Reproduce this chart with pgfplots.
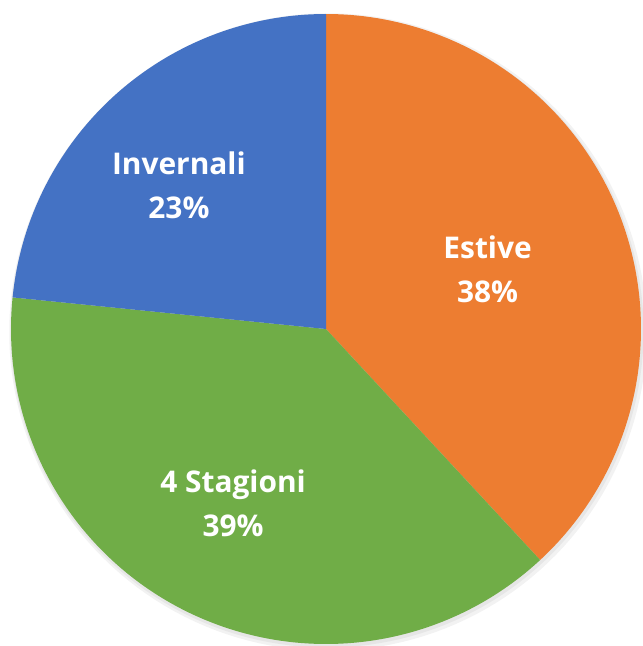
\documentclass[border=0pt]{standalone}
\usepackage{fontspec}
\setmainfont{Open Sans}
\usepackage{pgfplots}
\pgfplotsset{compat=1.18}
\definecolor{cOrange}{HTML}{ED7D31}
\definecolor{cGreen}{HTML}{70AD47}
\definecolor{cBlue}{HTML}{4472C4}
% shares in percent (labels rounded)
\def\pEstive{38.1}
\def\pStagioni{38.5}
\def\pInvernali{23.4}
\begin{document}
\begin{tikzpicture}
\pgfmathsetmacro{\aA}{90}
\pgfmathsetmacro{\aB}{90-3.6*\pEstive}
\pgfmathsetmacro{\aC}{\aB-3.6*\pStagioni}
\pgfmathsetmacro{\aD}{\aC-3.6*\pInvernali}
\begin{axis}[
  at={(0,0)}, anchor=origin,
  x=315bp, y=315bp,
  xmin=-1.05, xmax=1.05, ymin=-1.05, ymax=1.05,
  hide axis, clip=false,
  every axis plot/.append style={data cs=polar, draw=none, samples=180},
]
% soft shadow
\addplot[fill=black, fill opacity=0.05, domain=0:360, xshift=2bp, yshift=-3bp] (x,1.012) -- cycle;
\addplot[fill=black, fill opacity=0.05, domain=0:360, xshift=1bp, yshift=-2bp] (x,1.005) -- cycle;
\addplot[fill=cOrange, domain=\aB:\aA] (x,1) -- (axis cs:0,0) -- cycle;
\addplot[fill=cGreen, domain=\aC:\aB] (x,1) -- (axis cs:0,0) -- cycle;
\addplot[fill=cBlue, domain=\aD:\aC] (x,1) -- (axis cs:0,0) -- cycle;
\begin{scope}[every node/.style={text=white, align=center, font=\fontsize{30}{44}\selectfont\bfseries}]
\node at (axis cs:0.513,0.189) {Estive\\38\%};
\node at (axis cs:-0.295,-0.554) {4 Stagioni\\39\%};
\node at (axis cs:-0.467,0.456) {Invernali\\23\%};
\end{scope}
\end{axis}
\pgfresetboundingbox
\path (-326bp,-317bp) rectangle (317bp,329bp);
\end{tikzpicture}
\end{document}
